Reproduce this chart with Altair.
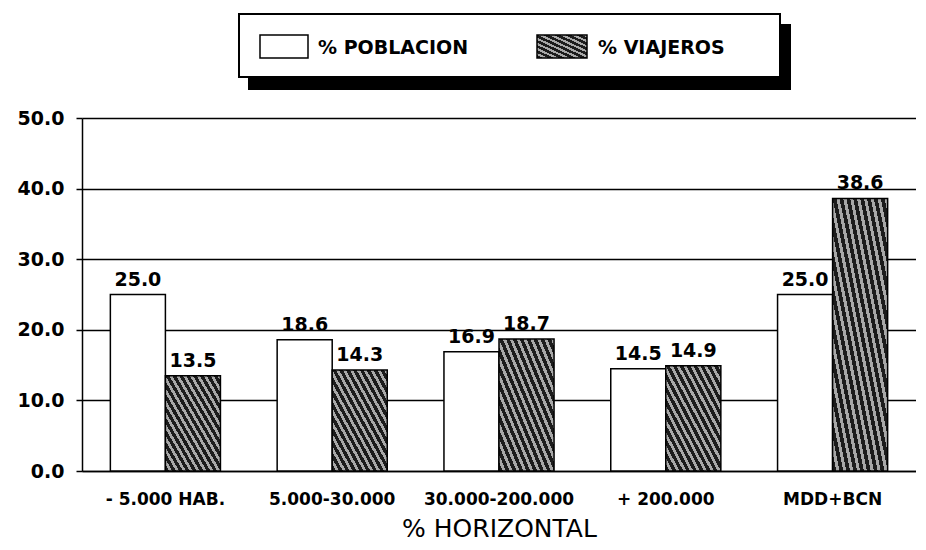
import altair as alt
import pandas as pd

categories = ["- 5.000 HAB.", "5.000-30.000", "30.000-200.000", "+ 200.000", "MDD+BCN"]
poblacion = [25.0, 18.6, 16.9, 14.5, 25.0]
viajeros = [13.5, 14.3, 18.7, 14.9, 38.6]
series = ["% POBLACION", "% VIAJEROS"]
y_ticks = [0, 10, 20, 30, 40, 50]
x_title = "% HORIZONTAL"

rows = []
for c, p, v in zip(categories, poblacion, viajeros):
    rows.append({"cat": c, "serie": series[0], "val": p})
    rows.append({"cat": c, "serie": series[1], "val": v})
df = pd.DataFrame(rows)


def hatch(n, dark="#1c1c1c", light="#a8a8a8", frac=0.55):
    stops = []
    for i in range(n):
        a = i / n
        b = (i + frac) / n
        c = (i + 1) / n
        stops += [
            alt.GradientStop(color=dark, offset=a),
            alt.GradientStop(color=dark, offset=b),
            alt.GradientStop(color=light, offset=b),
            alt.GradientStop(color=light, offset=c),
        ]
    return alt.LinearGradient(gradient="linear", stops=stops, x1=0, y1=1, x2=1, y2=0)


FONT = "DejaVu Sans"

base = alt.Chart(df).encode(
    x=alt.X(
        "cat:N",
        sort=categories,
        scale=alt.Scale(paddingInner=0.34, paddingOuter=0.17),
        axis=alt.Axis(
            title=x_title,
            labelAngle=0,
            ticks=False,
            labelPadding=20,
            labelFont=FONT,
            labelFontWeight="bold",
            labelFontSize=17,
            labelColor="black",
            labelOverlap=False,
            titleFont=FONT,
            titleFontSize=25,
            titleFontWeight="normal",
            titleColor="black",
            titlePadding=9,
            domainColor="black",
            domainWidth=1.5,
            grid=False,
        ),
    ),
    xOffset=alt.XOffset("serie:N", scale=alt.Scale(domain=series, paddingInner=0, paddingOuter=0)),
    y=alt.Y(
        "val:Q",
        scale=alt.Scale(domain=[0, 50], nice=False),
        axis=alt.Axis(
            title=None,
            values=y_ticks,
            format=".1f",
            labelFont=FONT,
            labelFontWeight="bold",
            labelFontSize=19,
            labelColor="black",
            labelPadding=12,
            tickSize=6,
            tickColor="black",
            tickWidth=1.5,
            domainColor="black",
            domainWidth=1.5,
            grid=True,
            gridColor="black",
            gridWidth=1.4,
        ),
    ),
)

bars_p = base.transform_filter(alt.datum.serie == series[0]).mark_bar(
    fill="white", stroke="black", strokeWidth=1.5
)
bars_v = base.transform_filter(alt.datum.serie == series[1]).mark_bar(
    fill=hatch(16), stroke="black", strokeWidth=1.5
)
labels = base.mark_text(
    dy=-5, baseline="bottom", font=FONT, fontWeight="bold", fontSize=19, color="black"
).encode(text=alt.Text("val:Q", format=".1f"))

one = pd.DataFrame({"k": [0]})
shadow = alt.Chart(one).mark_rect(fill="black").encode(
    x=alt.value(166), x2=alt.value(709), y=alt.value(-94), y2=alt.value(-28)
)
box = alt.Chart(one).mark_rect(fill="white", stroke="black", strokeWidth=2).encode(
    x=alt.value(157), x2=alt.value(698), y=alt.value(-104), y2=alt.value(-41)
)
sw1 = alt.Chart(one).mark_rect(fill="white", stroke="black", strokeWidth=1.5).encode(
    x=alt.value(178), x2=alt.value(226), y=alt.value(-83), y2=alt.value(-60)
)
sw2 = alt.Chart(one).mark_rect(fill=hatch(9), stroke="black", strokeWidth=1.5).encode(
    x=alt.value(455), x2=alt.value(505), y=alt.value(-83), y2=alt.value(-60)
)
t1 = alt.Chart(pd.DataFrame({"t": [series[0]]})).mark_text(
    align="left", baseline="middle", font=FONT, fontWeight="bold", fontSize=19, color="black"
).encode(x=alt.value(236), y=alt.value(-70), text="t:N")
t2 = alt.Chart(pd.DataFrame({"t": [series[1]]})).mark_text(
    align="left", baseline="middle", font=FONT, fontWeight="bold", fontSize=19, color="black"
).encode(x=alt.value(516), y=alt.value(-70), text="t:N")

chart = alt.layer(bars_p, bars_v, labels, shadow, box, sw1, sw2, t1, t2).properties(
    width=834,
    height=353,
    padding={"left": 9, "top": 5, "right": 0, "bottom": 0},
    background="white",
).configure_view(stroke=None)

chart.save("out.html", embed_options={"renderer": "svg", "actions": False})
